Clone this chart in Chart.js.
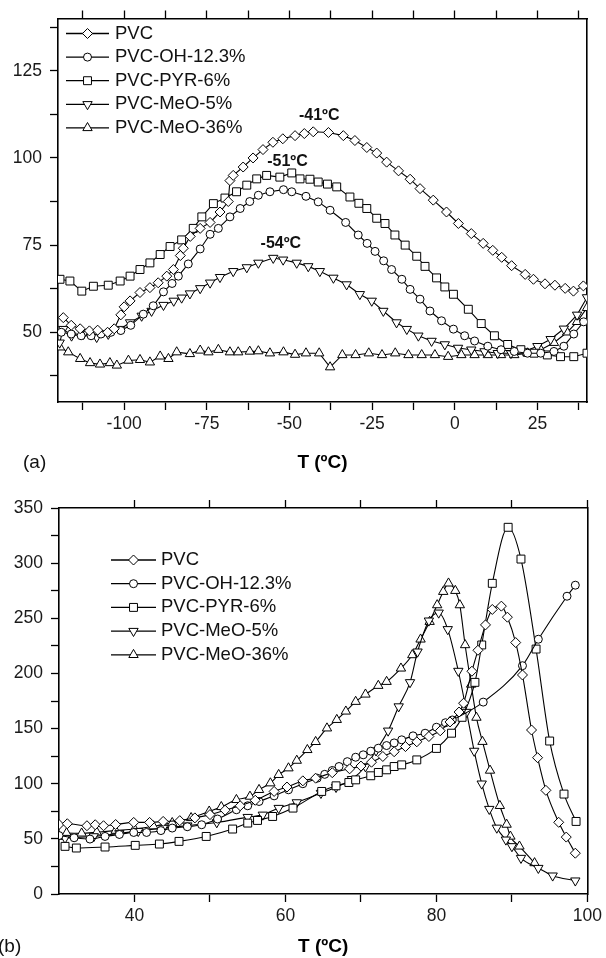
<!DOCTYPE html>
<html>
<head>
<meta charset="utf-8">
<script src="https://cdn.jsdelivr.net/npm/chart.js@4.4.1/dist/chart.umd.min.js"></script>
<style>
  html, body { margin: 0; padding: 0; background: #fff; }
  canvas { display: block; }
</style>
</head>
<body>
<canvas id="chartA" width="606" height="480"></canvas>
<canvas id="chartB" width="606" height="478"></canvas>
<script>
// series names (same in both panels)
var seriesNames = ['PVC', 'PVC-OH-12.3%', 'PVC-PYR-6%', 'PVC-MeO-5%', 'PVC-MeO-36%'];

// ---- panel (a) ----
var tA_pvc = [-118.4, -116, -113.3, -110.5, -108, -105, -103, -101, -100, -98.2, -95.2, -92.2, -89.7, -87.1, -85.1, -83, -82.1, -80, -77, -74, -71, -68.5, -68, -67, -64, -61, -58, -55, -52, -48.3, -45.5, -42.8, -38.2, -33.7, -30.2, -26.6, -23.6, -20.6, -17, -13.5, -10.5, -6.5, -2.5, 1.1, 5, 8.6, 11.5, 14.2, 17.2, 21.3, 23.8, 27.3, 30.3, 33.4, 35.9, 38.9];
var yA_pvc = [54.2, 52, 51, 50.4, 50.6, 50, 51, 55, 57.3, 59, 61.4, 62.8, 64.2, 66.1, 68, 72, 74.1, 77.5, 79.8, 81.5, 84.5, 87.5, 93.5, 95, 97.4, 100, 102.4, 104.5, 105.5, 106.4, 107, 107.5, 107.3, 106.4, 105, 103, 101.4, 98.8, 96.3, 93.9, 91.2, 87.9, 84.5, 81.2, 78.3, 75.5, 73.5, 71.5, 69.1, 66.6, 65.2, 63.9, 63.5, 62.6, 61.8, 63.3];

var tA_oh = [-119, -116, -113, -110, -107, -104, -101, -98, -94.2, -91.2, -88.1, -85.5, -83.6, -80.6, -77, -74, -71.5, -68, -64.9, -62, -59.4, -55.9, -51.8, -49.3, -45, -41.3, -37.7, -33, -29.2, -26.5, -24.1, -21.5, -19.1, -16, -13.5, -10.5, -7.5, -4, -0.4, 3, 6, 10, 14, 18, 22, 26, 30, 33, 36, 39];
var yA_oh = [50, 49.5, 49, 49, 49.5, 50, 50.5, 52, 55.2, 57.6, 61.6, 64, 66.1, 69.6, 73.9, 78.1, 79.8, 83.1, 85.5, 87.5, 89.3, 90.3, 90.9, 90.3, 89, 87.4, 85, 81.5, 77.9, 75.5, 73.2, 70.5, 68, 65.2, 62.3, 59.5, 56.1, 53.3, 50.9, 49, 47.5, 46, 45, 44.5, 44, 44, 44.5, 46, 49.5, 53];

var tA_pyr = [-119.4, -116.4, -112.8, -109.3, -104.8, -101.2, -98.2, -95.2, -92.2, -89.1, -86.1, -82.6, -79.1, -76.5, -73, -69.5, -66, -62.9, -59.9, -56.9, -52.9, -49.3, -46.8, -43.8, -41.3, -38.5, -35.7, -31.7, -29, -26.6, -23.6, -21.1, -18.1, -15, -11.5, -9, -5.5, -3, -0.4, 4.1, 8, 12, 16, 20, 24, 28, 32, 36, 40];
var yA_pyr = [65.2, 64.7, 61.8, 63.2, 63.5, 64.7, 66.1, 68, 69.9, 72.3, 74.6, 76.5, 79.8, 83.1, 86.9, 88.5, 90.3, 92.2, 94, 95, 94.5, 95.7, 94, 93.9, 93.1, 92.5, 91.7, 88.8, 87, 85.5, 82.7, 81.2, 77.9, 75, 71.8, 68.9, 65.6, 63, 60.9, 56.6, 52.5, 49, 46.5, 45, 44, 43.5, 43, 43, 44];

var tA_meo5 = [-119.5, -118.4, -115.9, -112.3, -108.3, -104.8, -101.2, -98.2, -94.7, -91.7, -88.1, -85, -82.6, -80.1, -77, -74, -71, -67, -62.9, -59.4, -54.9, -51.9, -47.8, -44.3, -40.8, -36.7, -32.7, -28.7, -25.1, -21.6, -17.6, -14.5, -11, -7, -3, 1, 5, 9, 13, 17, 21, 25, 29, 33, 37, 40];
var yA_meo5 = [47, 50.9, 49, 49.5, 48.6, 49.5, 50.9, 52.8, 54.7, 56.1, 57.8, 59, 59.9, 61.1, 62.6, 64.2, 65.8, 67.5, 68.6, 69.9, 71.3, 70.8, 69.9, 68.9, 67.5, 65.6, 63.7, 60.9, 59, 56.1, 52.8, 50.9, 49, 47.5, 46.5, 45.5, 45, 44.5, 44, 44, 44.5, 46, 48, 51, 55, 60];

var tA_meo36 = [-119.4, -116.9, -113.3, -110.3, -107.3, -104.3, -102.2, -98.7, -95.2, -92.2, -89.1, -86.6, -84.1, -80.1, -77, -74.5, -71.5, -68, -65.5, -62, -59.4, -55.9, -51.8, -48.3, -45, -41, -37.7, -34, -30, -26, -22, -18, -14, -10, -6, -2, 2, 6, 10, 14, 18, 22, 26, 30, 34, 37, 40];
var yA_meo36 = [45.7, 44.3, 42.4, 41.2, 40.8, 41.2, 40.5, 41.9, 42.1, 41.4, 43.1, 42.4, 44.3, 43.8, 44.8, 44.3, 45, 44.3, 44.3, 44.5, 44.6, 44, 44.3, 43.6, 44, 44, 40, 43.5, 43.5, 44, 43.5, 44, 43.5, 43.5, 43.5, 43, 43.5, 43.5, 43.5, 43.5, 43.5, 44, 45, 47, 50, 53, 57];

var xTicksA = [-112.5, -100, -87.5, -75, -62.5, -50, -37.5, -25, -12.5, 0, 12.5, 25, 37.5];
var yTicksA = [37.5, 50, 62.5, 75, 87.5, 100, 112.5, 125, 137.5];

// peak temperature notes in panel (a)
var peakText = ['-41ºC', '-51ºC', '-54ºC'];
var peakT = [-41, -50.6, -52.6];
var peakY = [112.1, 99, 75.3];

// ---- panel (b) ----
var tB_pvc = [30, 31.1, 33.7, 34.8, 35.9, 37.5, 39.9, 42, 43.8, 46, 48, 50, 52, 54, 56, 58.5, 60.2, 62.3, 64, 66.2, 68.5, 70, 71.4, 72.9, 74.4, 75.9, 77.4, 79, 80.5, 81.8, 83, 83.6, 84.7, 85.5, 86.5, 87.4, 88.6, 89.4, 90.5, 91.4, 92.6, 93.4, 94.5, 96.2, 97.2, 98.4];
var yB_pvc = [63, 63.7, 61.9, 62.8, 61.9, 63, 64.9, 64.9, 65.8, 66.5, 69, 72, 76, 80, 85, 93, 97, 102.6, 105, 110, 113.5, 116, 119.5, 124.7, 129, 133.7, 138, 142.8, 148, 156, 165, 173, 202, 221, 244, 258, 261, 251, 228, 198.6, 148.7, 123.6, 94, 65, 51.6, 37];

var tB_oh = [30, 32, 34.1, 36.1, 38, 39.9, 41.6, 43.5, 45, 47, 48.9, 51, 53.5, 55, 56.5, 58.5, 60.4, 62.3, 64.2, 65.2, 66.2, 67.1, 68.2, 69.3, 70.3, 71.3, 72.3, 73.4, 74.4, 75.4, 76.9, 78.5, 80, 81.2, 82.1, 86.2, 91.4, 93.5, 97.3, 98.4];
var yB_oh = [53, 51, 49.8, 52.2, 54, 55.8, 55.8, 57.5, 59.8, 61, 62.8, 68, 76.4, 80, 83.9, 89, 94.5, 100, 105, 108.5, 112, 115.6, 120, 124, 126.2, 129.5, 132.2, 134.6, 137, 139.8, 143.4, 145.8, 151.2, 155.3, 157.8, 174, 207, 231, 270, 280];

var tB_pyr = [30.8, 32.3, 36.1, 40.1, 43.3, 45.9, 49.5, 53, 55, 56.3, 58.3, 61, 64.8, 66.7, 68.4, 69.3, 71.3, 72.3, 73.4, 74.4, 75.4, 77.4, 80, 82, 83.4, 85.1, 86, 87.4, 89.5, 91.2, 93.2, 95, 96.9, 98.5];
var yB_pyr = [43.2, 41.7, 42.6, 44.1, 45.3, 47.7, 52.2, 58.9, 64.3, 66.7, 70.3, 77.9, 93, 98.1, 101.1, 103.5, 107.2, 110.2, 112.6, 115.6, 117.1, 121.6, 132, 145.8, 160.2, 191.9, 225.8, 281.7, 332.5, 303.7, 222.1, 138.7, 90.6, 65.8];

var tB_meo5 = [30.8, 34.6, 38, 40.5, 43.8, 47, 50.9, 55, 57, 59.1, 61.5, 64.7, 66.7, 68.8, 70.6, 72, 73.6, 75, 76.5, 77.5, 79, 80.3, 81.5, 82.9, 84, 85, 86, 87, 88, 89.2, 90, 91.2, 93.5, 95.4, 98.4];
var yB_meo5 = [50.7, 52.2, 55, 57, 59.8, 62, 64.9, 69.7, 71.8, 77.9, 83, 91.5, 96.9, 104.1, 115.6, 130, 148, 170, 191.9, 219.7, 247.8, 255, 240, 202.2, 165, 129.7, 100, 77, 60, 49.2, 43.2, 32.6, 23.5, 16.6, 12.1];

var tB_meo36 = [30, 31, 33, 35, 37.5, 40, 42.5, 45, 47.5, 49.9, 51.5, 53.5, 55.3, 56.5, 58, 59.1, 60.4, 61.5, 62.9, 64, 65.5, 66.8, 68, 69.3, 70.6, 72.3, 73.4, 75.3, 76.8, 77.9, 79.1, 80.1, 80.9, 81.6, 82.5, 83.1, 83.8, 84.6, 85.3, 86.1, 87.1, 88.4, 89.3, 89.8, 91, 93];
var yB_meo36 = [52, 55.2, 55, 56, 57.5, 59, 61.5, 64.5, 69, 74.9, 79, 85.4, 88.4, 94.5, 100.5, 108.1, 114.1, 121, 130.7, 138, 150.3, 158, 165.6, 174.4, 181, 188.9, 192.5, 204.6, 216.7, 230.9, 246.9, 262, 274.1, 281.7, 275, 262, 225.8, 190, 160, 138.1, 112, 80, 63, 52.2, 43.2, 28.1];

var xTicksB = [40, 50, 60, 70, 80, 90, 100];
var yTicksB = [0, 25, 50, 75, 100, 125, 150, 175, 200, 225, 250, 275, 300, 325, 350];

// marker look for each series
var markerStyle = ['rectRot', 'circle', 'rect', 'triangle', 'triangle'];
var markerRot = [0, 0, 0, 180, 0];
var markerSize = [5, 4, 5.6, 5.4, 5.4];

var FONT = '"Liberation Sans", Arial, Helvetica, sans-serif';
Chart.defaults.font.family = FONT;
Chart.defaults.color = '#111';

function pairUp(ts, ys) {
    return ts.map(function (t, i) { return { x: t, y: ys[i] }; });
}

function buildSets(list, smooth) {
    return list.map(function (s, i) {
        return {
            label: seriesNames[i],
            data: pairUp(s[0], s[1]),
            borderColor: '#000',
            borderWidth: 1.1,
            backgroundColor: '#fff',
            pointStyle: markerStyle[i],
            pointRotation: markerRot[i],
            pointRadius: markerSize[i],
            pointBackgroundColor: '#fff',
            pointBorderColor: '#000',
            pointBorderWidth: 1,
            tension: smooth ? 0.35 : 0,
            cubicInterpolationMode: smooth ? 'monotone' : 'default'
        };
    });
}

// legend drawn inside the plot
var innerLegend = {
    id: 'innerLegend',
    afterDatasetsDraw: function (chart, args, o) {
        var ctx = chart.ctx;
        ctx.save();
        chart.data.datasets.forEach(function (ds, i) {
            var y = o.y + i * o.gap;
            ctx.strokeStyle = '#000';
            ctx.lineWidth = 1.3;
            ctx.beginPath();
            ctx.moveTo(o.x1, y);
            ctx.lineTo(o.x2, y);
            ctx.stroke();
            ctx.fillStyle = '#fff';
            ctx.lineWidth = 1;
            Chart.helpers.drawPoint(ctx, {
                pointStyle: ds.pointStyle, rotation: ds.pointRotation,
                radius: ds.pointRadius, borderWidth: 1
            }, (o.x1 + o.x2) / 2, y);
            ctx.fillStyle = '#111';
            ctx.font = '18.5px ' + FONT;
            ctx.textAlign = 'left';
            ctx.textBaseline = 'middle';
            ctx.fillText(ds.label, o.textX, y);
        });
        ctx.restore();
    }
};

// extra texts: panel letter and peak notes
var extraText = {
    id: 'extraText',
    afterDraw: function (chart, args, o) {
        var ctx = chart.ctx;
        ctx.save();
        ctx.fillStyle = '#111';
        ctx.textBaseline = 'middle';
        ctx.font = '19px ' + FONT;
        ctx.textAlign = 'left';
        ctx.fillText(o.panel, o.panelX, o.panelY);
        if (o.notes) {
            ctx.font = 'bold 16px ' + FONT;
            ctx.textAlign = 'center';
            o.notes.forEach(function (txt, i) {
                ctx.fillText(txt, chart.scales.x.getPixelForValue(o.noteX[i]), chart.scales.y.getPixelForValue(o.noteY[i]));
            });
        }
        ctx.restore();
    }
};

function makeScales(xr, yr, xt, yt, xMajor, yMajor, sizes) {
    var gridCfg = { drawOnChartArea: false, tickLength: 8, tickColor: '#000', tickWidth: 1.3 };
    var borderCfg = { color: '#000', width: 1.6 };
    var tickFont = { size: 17.5 };
    return {
        x: {
            type: 'linear', position: 'bottom', min: xr[0], max: xr[1],
            afterBuildTicks: function (s) { s.ticks = xt.map(function (v) { return { value: v }; }); },
            afterFit: function (s) { s.height = sizes.bottom; },
            ticks: {
                autoSkip: false, maxRotation: 0, padding: 4, font: tickFont, color: '#1a1a1a',
                callback: function (v) { return v % xMajor === 0 ? String(v) : ''; }
            },
            grid: gridCfg, border: borderCfg,
            title: {
                display: true, text: 'T (ºC)', color: '#000',
                font: { size: 19, weight: 'bold', lineHeight: 1.2 },
                padding: { top: 0, bottom: sizes.titlePad }
            }
        },
        xTop: {
            type: 'linear', position: 'top', min: xr[0], max: xr[1],
            afterBuildTicks: function (s) { s.ticks = xt.map(function (v) { return { value: v }; }); },
            afterFit: function (s) { s.height = sizes.top; },
            ticks: { display: false },
            grid: gridCfg, border: borderCfg
        },
        y: {
            type: 'linear', position: 'left', min: yr[0], max: yr[1],
            afterBuildTicks: function (s) { s.ticks = yt.map(function (v) { return { value: v }; }); },
            afterFit: function (s) { s.width = sizes.left; },
            ticks: {
                autoSkip: false, padding: 8, font: tickFont, color: '#1a1a1a',
                callback: function (v) { return v % yMajor === 0 ? String(v) : ''; }
            },
            grid: gridCfg, border: borderCfg
        },
        yRight: {
            type: 'linear', position: 'right', min: yr[0], max: yr[1],
            afterFit: function (s) { s.width = sizes.right; },
            ticks: { display: false },
            grid: { drawOnChartArea: false, drawTicks: false },
            border: borderCfg
        }
    };
}

new Chart(document.getElementById('chartA'), {
    type: 'scatter',
    data: {
        datasets: buildSets([
            [tA_pvc, yA_pvc], [tA_oh, yA_oh], [tA_pyr, yA_pyr], [tA_meo5, yA_meo5], [tA_meo36, yA_meo36]
        ], false)
    },
    options: {
        responsive: false, animation: false, devicePixelRatio: 1, showLine: true,
        events: [],
        layout: { padding: 0 },
        scales: makeScales([-120, 40], [30, 140], xTicksA, yTicksA, 25, 25,
            { bottom: 78, top: 15, left: 58, right: 19, titlePad: 5.6 }),
        plugins: {
            legend: { display: false },
            tooltip: { enabled: false },
            innerLegend: { x1: 66, x2: 109, textX: 115, y: 33.5, gap: 23.6 },
            extraText: { panel: '(a)', panelX: 23, panelY: 463, notes: peakText, noteX: peakT, noteY: peakY }
        }
    },
    plugins: [innerLegend, extraText]
});

new Chart(document.getElementById('chartB'), {
    type: 'scatter',
    data: {
        datasets: buildSets([
            [tB_pvc, yB_pvc], [tB_oh, yB_oh], [tB_pyr, yB_pyr], [tB_meo5, yB_meo5], [tB_meo36, yB_meo36]
        ], true)
    },
    options: {
        responsive: false, animation: false, devicePixelRatio: 1, showLine: true,
        events: [],
        layout: { padding: 0 },
        scales: makeScales([30, 100], [0, 350], xTicksB, yTicksB, 20, 50,
            { bottom: 64, top: 28, left: 59, right: 18, titlePad: 0 }),
        plugins: {
            legend: { display: false },
            tooltip: { enabled: false },
            innerLegend: { x1: 111, x2: 156, textX: 161, y: 80, gap: 23.7 },
            extraText: { panel: '(b)', panelX: -2, panelY: 467 }
        }
    },
    plugins: [innerLegend, extraText]
});
</script>
</body>
</html>
